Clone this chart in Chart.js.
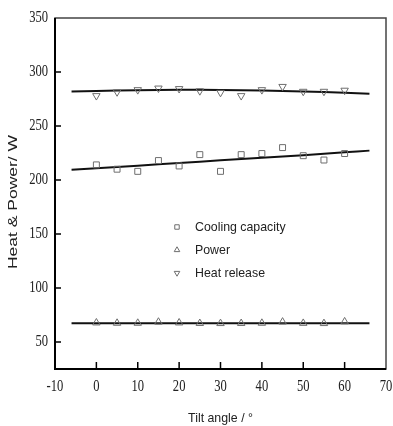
<!DOCTYPE html>
<html>
<head>
<meta charset="utf-8">
<script src="https://cdn.jsdelivr.net/npm/chart.js@4"></script>
<style>
  html, body { margin: 0; padding: 0; background: #fff; }
  #wrap { width: 393px; height: 426px; position: relative; }
</style>
</head>
<body>
<div id="wrap"><canvas id="chart"></canvas></div>
<script>
// --- data ---
const tiltAngles = [0, 5, 10, 15, 20, 25, 30, 35, 40, 45, 50, 55, 60];
const coolingCapacity = [214, 210, 208, 218, 213, 223.5, 208, 223.5, 224.5, 230, 222.5, 218.5, 224.5];
const powerValues = [67.8, 67.5, 67.5, 68.5, 67.8, 67.3, 67.2, 67.3, 67.5, 68.6, 67.4, 67.2, 68.8];
const heatRelease = [278, 281.5, 283.5, 285, 284.5, 282.5, 281, 278, 283.5, 286.5, 282, 282, 283];

// fitted curves
const fitX = [-6, 0, 10, 20, 30, 40, 50, 60, 66];
const coolingFit = [209.4, 210.8, 213.3, 215.8, 218.2, 220.6, 223, 225.6, 227.2];
const powerFit = [67.3, 67.3, 67.3, 67.3, 67.3, 67.3, 67.3, 67.3, 67.3];
const heatFit = [282, 282.5, 283.2, 283.5, 283.4, 282.9, 282, 280.8, 279.8];

const xTicks = [-10, 0, 10, 20, 30, 40, 50, 60, 70];
const yTicks = [50, 100, 150, 200, 250, 300, 350];

const seriesNames = ['Cooling capacity', 'Power', 'Heat release'];
const xTitle = 'Tilt angle / °';
const yTitle = 'Heat & Power/ W';

const MARK = '#6e6e6e';

function pts(xs, ys) {
    return xs.map((x, i) => ({ x: x, y: ys[i] }));
}

function markerSet(label, ys, style, rot, r) {
    return {
        label: label,
        data: pts(tiltAngles, ys),
        showLine: false,
        pointStyle: style,
        rotation: rot,
        pointRadius: r,
        pointBorderWidth: 1,
        pointBorderColor: MARK,
        pointBackgroundColor: 'rgba(0,0,0,0)'
    };
}

function fitSet(ys) {
    return {
        label: 'fit',
        data: pts(fitX, ys),
        showLine: true,
        borderColor: '#111',
        borderWidth: 2,
        pointRadius: 0,
        tension: 0.4
    };
}

// draws frame, inward ticks, tick labels, titles and legend
const decor = {
    id: 'decor',
    afterDraw(chart) {
        const { ctx, chartArea: a, scales: { x, y } } = chart;
        ctx.save();

        // frame
        ctx.strokeStyle = '#444';
        ctx.lineWidth = 1.5;
        ctx.strokeRect(a.left, a.top, a.right - a.left, a.bottom - a.top);
        ctx.strokeStyle = '#000';
        ctx.lineWidth = 2;
        ctx.beginPath();
        ctx.moveTo(a.left, a.top);
        ctx.lineTo(a.left, a.bottom);
        ctx.lineTo(a.right, a.bottom);
        ctx.stroke();

        // inward ticks
        ctx.lineWidth = 1.5;
        ctx.beginPath();
        xTicks.slice(1, -1).forEach(v => {
            const px = x.getPixelForValue(v);
            ctx.moveTo(px, a.bottom);
            ctx.lineTo(px, a.bottom - 7);
        });
        yTicks.slice(0, -1).forEach(v => {
            const py = y.getPixelForValue(v);
            ctx.moveTo(a.left, py);
            ctx.lineTo(a.left + 6, py);
        });
        ctx.stroke();

        // tick labels (narrow serif)
        ctx.fillStyle = '#222';
        ctx.font = '17px "Liberation Serif", "Times New Roman", serif';
        ctx.textBaseline = 'middle';
        const sx = 0.74;
        yTicks.forEach(v => {
            const py = y.getPixelForValue(v);
            ctx.save();
            ctx.translate(a.left - 7, py);
            ctx.scale(sx, 1);
            ctx.textAlign = 'right';
            ctx.fillText(String(v), 0, 0);
            ctx.restore();
        });
        xTicks.forEach(v => {
            const px = x.getPixelForValue(v);
            ctx.save();
            ctx.translate(px, a.bottom + 18);
            ctx.scale(sx, 1);
            ctx.textAlign = 'center';
            ctx.fillText(String(v), 0, 0);
            ctx.restore();
        });

        // axis titles
        ctx.font = '13px "Liberation Sans", Arial, sans-serif';
        ctx.save();
        ctx.translate((a.left + a.right) / 2, 418);
        ctx.scale(0.95, 1);
        ctx.textAlign = 'center';
        ctx.fillText(xTitle, 0, 0);
        ctx.restore();

        ctx.font = '12.5px "Liberation Sans", Arial, sans-serif';
        ctx.save();
        ctx.translate(14, 202);
        ctx.rotate(-Math.PI / 2);
        ctx.scale(1.4, 1);
        ctx.textAlign = 'center';
        ctx.fillText(yTitle, 0, 0);
        ctx.restore();

        // legend
        const lx = 177, ly = [227, 250, 273];
        ctx.font = '13px "Liberation Sans", Arial, sans-serif';
        ctx.textAlign = 'left';
        seriesNames.forEach((name, i) => {
            const ds = chart.data.datasets[i];
            ctx.save();
            ctx.strokeStyle = MARK;
            ctx.fillStyle = 'rgba(0,0,0,0)';
            ctx.lineWidth = 1;
            Chart.helpers.drawPoint(ctx, {
                pointStyle: ds.pointStyle,
                rotation: ds.rotation,
                radius: ds.pointRadius * 0.75,
                borderWidth: 1
            }, lx, ly[i]);
            ctx.restore();
            ctx.save();
            ctx.translate(195, ly[i]);
            ctx.scale(0.95, 1);
            ctx.fillStyle = '#222';
            ctx.fillText(name, 0, 0);
            ctx.restore();
        });

        ctx.restore();
    }
};

new Chart(document.getElementById('chart'), {
    type: 'scatter',
    data: {
        datasets: [
            markerSet(seriesNames[0], coolingCapacity, 'rect', 0, 4.2),
            markerSet(seriesNames[1], powerValues, 'triangle', 0, 4.3),
            markerSet(seriesNames[2], heatRelease, 'triangle', 180, 4.3),
            fitSet(coolingFit),
            fitSet(powerFit),
            fitSet(heatFit)
        ]
    },
    options: {
        responsive: true,
        maintainAspectRatio: false,
        animation: false,
        layout: { padding: { top: 18, right: 7, left: 0, bottom: 0 } },
        plugins: {
            legend: { display: false },
            tooltip: { enabled: false }
        },
        scales: {
            x: {
                type: 'linear',
                min: -10,
                max: 70,
                grid: { display: false, drawTicks: false },
                border: { display: false },
                ticks: { display: false },
                afterFit: s => { s.height = 57; }
            },
            y: {
                min: 25,
                max: 350,
                grid: { display: false, drawTicks: false },
                border: { display: false },
                ticks: { display: false },
                afterFit: s => { s.width = 55; }
            }
        }
    },
    plugins: [decor]
});
</script>
</body>
</html>
